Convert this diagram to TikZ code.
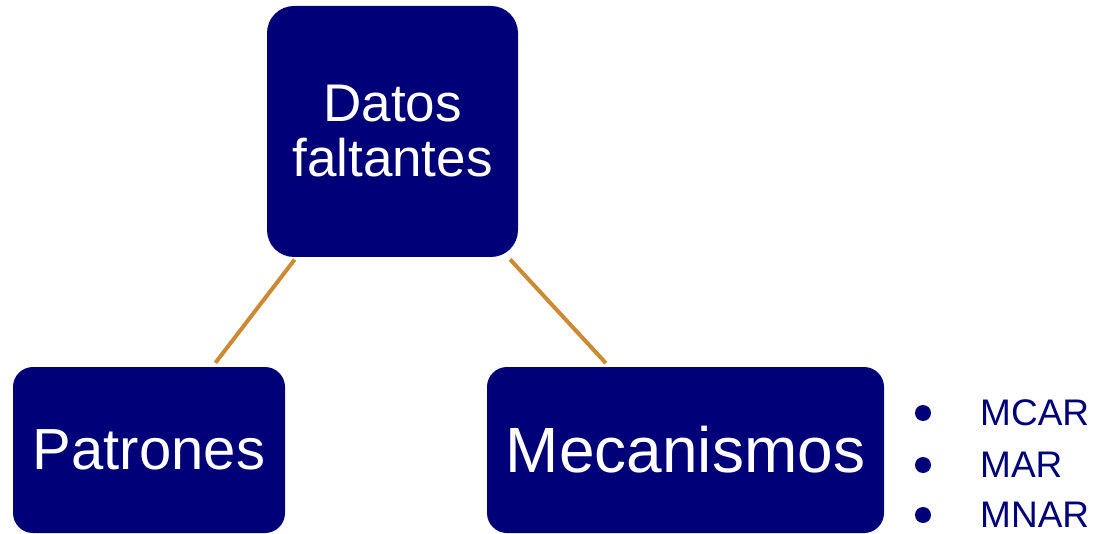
\documentclass[tikz,border=0pt]{standalone}
\usepackage{fontspec}
\setmainfont{Liberation Sans}
\definecolor{boxblue}{RGB}{0,0,120}
\definecolor{linktan}{RGB}{205,138,52}

\tikzset{
  box/.style={fill=boxblue, text=white, inner sep=0pt, align=center},
  link/.style={linktan, line width=4pt, shorten <=3pt, shorten >=5pt},
  dot/.style={circle, fill=boxblue, inner sep=0pt, minimum size=16pt},
  item/.style={text=boxblue, inner sep=0pt, anchor=base west, font=\fontsize{37}{40}\selectfont}
}

\begin{document}
\begin{tikzpicture}[x=1pt,y=-1pt]
\useasboundingbox (0,0) rectangle (1094,534);
\node[box, minimum width=251pt, minimum height=251pt, rounded corners=27pt,
  font=\fontsize{53}{55}\selectfont] (datos) at (392.5,131.5) {Datos\\faltantes};
\node[box, minimum width=272pt, minimum height=166pt, rounded corners=20pt,
  font=\fontsize{58}{60}\selectfont] (patrones) at (149,450) {Patrones};
\node[box, minimum width=397pt, minimum height=166pt, rounded corners=20pt,
  font=\fontsize{64}{66}\selectfont] (mecanismos) at (685.5,450) {Mecanismos};
\draw[link] (datos) -- (patrones);
\draw[link] (datos) -- (mecanismos);
\node[dot] (d1) at (923,413) {};
\node[dot] (d2) at (923,465) {};
\node[dot] (d3) at (923,515) {};
\node[item] (mcar) at (980,425) {MCAR};
\node[item] (mar) at (980,477) {MAR};
\node[item] (mnar) at (980,527) {MNAR};
\end{tikzpicture}
\end{document}
